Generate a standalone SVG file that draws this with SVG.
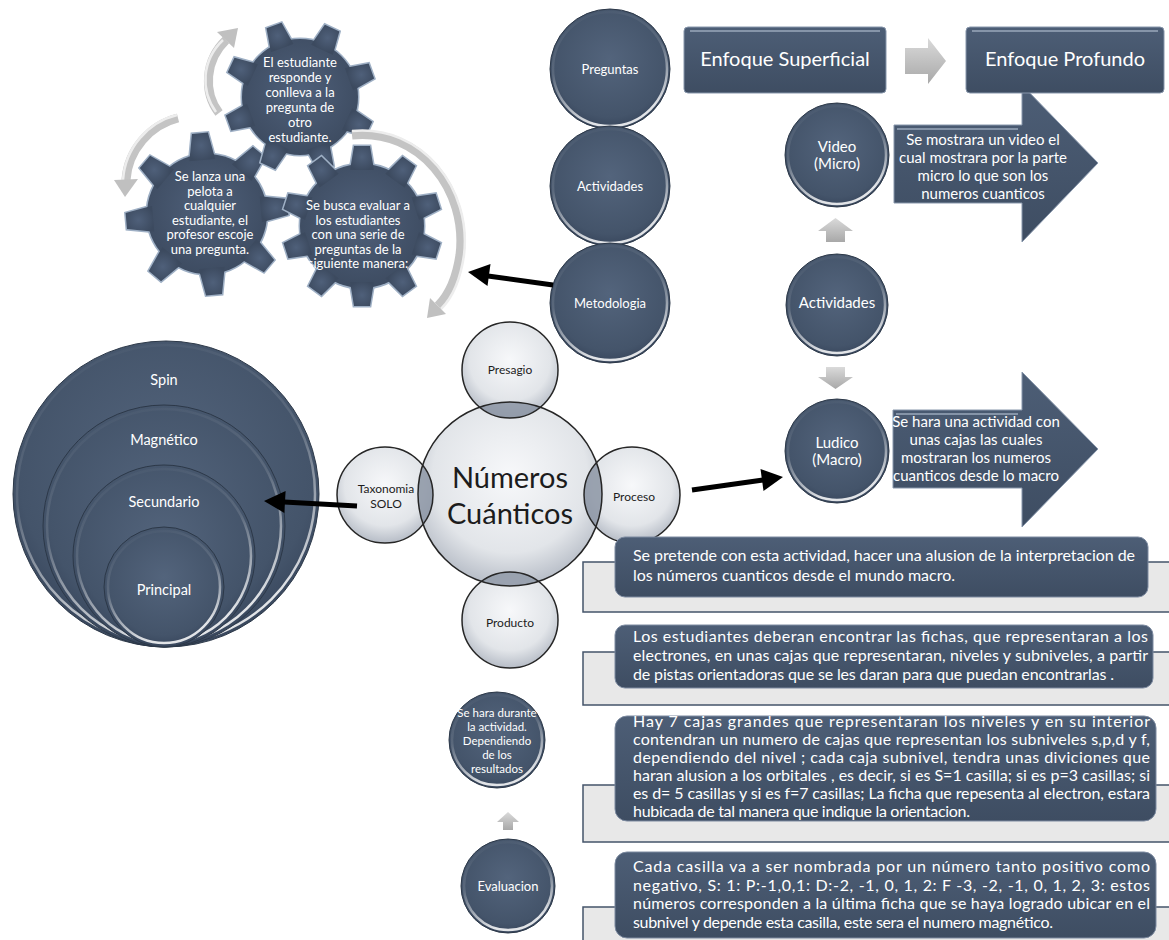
<svg xmlns="http://www.w3.org/2000/svg" xmlns:xlink="http://www.w3.org/1999/xlink" width="1169" height="940" viewBox="0 0 1169 940">
<defs>
<style>
text{font-family:Lato,"Open Sans","Liberation Sans",sans-serif}
.navy{fill:url(#navyFill);stroke:#2c3848;stroke-width:1}
.rim{fill:none;stroke:url(#rimGrad);stroke-width:2.5}
.wt{fill:#fff;text-anchor:middle}
.bubble{fill:url(#bubbleFill)}
.bline{fill:none;stroke:#262626;stroke-width:1.5}
.lens{fill:#8c95a4;opacity:.85}
.dk{fill:#1c1c1c;text-anchor:middle}
.para{fill:#fff;font-size:16px}
.lightbox{fill:#e8e8e8;stroke:#44546a;stroke-width:1.5}
.darkbox{fill:url(#boxFill);stroke:#7c8aa0;stroke-width:1}
.garrow{fill:url(#grayFill)}
.conn{stroke:#000;stroke-width:5;fill:none}
.head{fill:#000}
.arc{fill:none;stroke:#c4c4c4;stroke-width:9}
.arcshine{fill:none;stroke:#ededed;stroke-width:2.5}
.archead{fill:#c0c0c0}
.gearEdge{fill:#44546a;stroke:#9fb0c5;stroke-width:3}
.gearFill{fill:url(#gearGrad)}
.barrow{fill:url(#boxFill);stroke:#8796ab;stroke-width:1}
</style>
<radialGradient id="navyFill" cx="0.5" cy="0.42" r="0.6"><stop offset="0" stop-color="#53647c"/><stop offset="0.8" stop-color="#44546a"/><stop offset="1" stop-color="#36445a"/></radialGradient>
<linearGradient id="rimGrad" x1="0" y1="0" x2="0.3" y2="1"><stop offset="0" stop-color="#fff" stop-opacity="0"/><stop offset="0.5" stop-color="#fff" stop-opacity="0.12"/><stop offset="1" stop-color="#fff" stop-opacity="0.85"/></linearGradient>
<radialGradient id="bubbleFill" cx="0.5" cy="0.4" r="0.6"><stop offset="0" stop-color="#f7f8fa"/><stop offset="0.7" stop-color="#e2e5e9"/><stop offset="1" stop-color="#b7bdc7"/></radialGradient>
<linearGradient id="grayFill" x1="0" y1="0" x2="0" y2="1"><stop offset="0" stop-color="#dadada"/><stop offset="1" stop-color="#a8a8a8"/></linearGradient>
<linearGradient id="boxFill" x1="0" y1="0" x2="0" y2="1"><stop offset="0" stop-color="#4d5e76"/><stop offset="1" stop-color="#3e4d62"/></linearGradient>
<radialGradient id="gearGrad" cx="0.5" cy="0.45" r="0.6"><stop offset="0" stop-color="#4f607a"/><stop offset="1" stop-color="#3c4a5f"/></radialGradient>
<clipPath id="bigClip"><circle cx="510" cy="494" r="92"/></clipPath>
<g id="gear1">
<circle cx="300" cy="97" r="58"/>
<polygon points="-12,-52 -8,-76 8,-76 12,-52" transform="translate(300 97) rotate(-20)"/>
<polygon points="-12,-52 -8,-76 8,-76 12,-52" transform="translate(300 97) rotate(25)"/>
<polygon points="-12,-52 -8,-76 8,-76 12,-52" transform="translate(300 97) rotate(70)"/>
<polygon points="-12,-52 -8,-76 8,-76 12,-52" transform="translate(300 97) rotate(115)"/>
<polygon points="-12,-52 -8,-76 8,-76 12,-52" transform="translate(300 97) rotate(160)"/>
<polygon points="-12,-52 -8,-76 8,-76 12,-52" transform="translate(300 97) rotate(205)"/>
<polygon points="-12,-52 -8,-76 8,-76 12,-52" transform="translate(300 97) rotate(250)"/>
<polygon points="-12,-52 -8,-76 8,-76 12,-52" transform="translate(300 97) rotate(295)"/>
</g>
<g id="gear2">
<circle cx="207" cy="214" r="60"/>
<polygon points="-13,-54 -8,-81 8,-81 13,-54" transform="translate(207 214) rotate(-5)"/>
<polygon points="-13,-54 -8,-81 8,-81 13,-54" transform="translate(207 214) rotate(40)"/>
<polygon points="-13,-54 -8,-81 8,-81 13,-54" transform="translate(207 214) rotate(85)"/>
<polygon points="-13,-54 -8,-81 8,-81 13,-54" transform="translate(207 214) rotate(130)"/>
<polygon points="-13,-54 -8,-81 8,-81 13,-54" transform="translate(207 214) rotate(175)"/>
<polygon points="-13,-54 -8,-81 8,-81 13,-54" transform="translate(207 214) rotate(220)"/>
<polygon points="-13,-54 -8,-81 8,-81 13,-54" transform="translate(207 214) rotate(265)"/>
<polygon points="-13,-54 -8,-81 8,-81 13,-54" transform="translate(207 214) rotate(310)"/>
</g>
<g id="gear3">
<circle cx="362" cy="226" r="62"/>
<polygon points="-12,-56 -8,-80 8,-80 12,-56" transform="translate(362 226) rotate(0)"/>
<polygon points="-12,-56 -8,-80 8,-80 12,-56" transform="translate(362 226) rotate(36)"/>
<polygon points="-12,-56 -8,-80 8,-80 12,-56" transform="translate(362 226) rotate(72)"/>
<polygon points="-12,-56 -8,-80 8,-80 12,-56" transform="translate(362 226) rotate(108)"/>
<polygon points="-12,-56 -8,-80 8,-80 12,-56" transform="translate(362 226) rotate(144)"/>
<polygon points="-12,-56 -8,-80 8,-80 12,-56" transform="translate(362 226) rotate(180)"/>
<polygon points="-12,-56 -8,-80 8,-80 12,-56" transform="translate(362 226) rotate(216)"/>
<polygon points="-12,-56 -8,-80 8,-80 12,-56" transform="translate(362 226) rotate(252)"/>
<polygon points="-12,-56 -8,-80 8,-80 12,-56" transform="translate(362 226) rotate(288)"/>
<polygon points="-12,-56 -8,-80 8,-80 12,-56" transform="translate(362 226) rotate(324)"/>
</g>
</defs>

<rect width="1169" height="940" fill="#fff"/>

<!-- gears -->
<g id="gear-lanza">
<use href="#gear2" class="gearEdge"/><use href="#gear2" class="gearFill"/>
<text class="wt" font-size="13"><tspan x="210" y="181">Se lanza una</tspan><tspan x="210" y="195.5">pelota a</tspan><tspan x="210" y="210">cualquier</tspan><tspan x="210" y="224.5">estudiante, el</tspan><tspan x="210" y="239">profesor escoje</tspan><tspan x="210" y="253.5">una pregunta.</tspan></text>
</g>
<g id="gear-responde">
<use href="#gear1" class="gearEdge"/><use href="#gear1" class="gearFill"/>
<text class="wt" font-size="13"><tspan x="300" y="67">El estudiante</tspan><tspan x="300" y="82">responde y</tspan><tspan x="300" y="97">conlleva a la</tspan><tspan x="300" y="112">pregunta de</tspan><tspan x="300" y="127">otro</tspan><tspan x="300" y="142">estudiante.</tspan></text>
</g>
<g id="gear-busca">
<use href="#gear3" class="gearEdge"/><use href="#gear3" class="gearFill"/>
<text class="wt" font-size="13"><tspan x="358" y="210">Se busca evaluar a</tspan><tspan x="358" y="224.5">los estudiantes</tspan><tspan x="358" y="239">con una serie de</tspan><tspan x="358" y="253.5">preguntas de la</tspan><tspan x="358" y="268">siguiente manera:</tspan></text>
</g>

<!-- gray circular arrows -->
<g id="cycle-arrows">
<path class="arc" d="M219,113 C203,92 205,60 226,40"/>
<path class="arcshine" d="M216,112 C200,90 202,60 223,40"/>
<polygon class="archead" points="217,32 238,28 234,48"/>
<path class="arc" d="M178,118 C150,125 128,150 126,180"/>
<path class="arcshine" d="M177,115 C148,122 125,148 123,180"/>
<polygon class="archead" points="114,180 138,179 125,197"/>
<path class="arc" d="M352,135 C420,128 468,190 460,255 C456,282 446,298 438,306"/>
<path class="arcshine" d="M352,131 C423,124 472,190 464,255 C460,283 450,300 441,309"/>
<polygon class="archead" points="446,314 430,298 427,318"/>
</g>

<!-- left column -->
<g id="n-preguntas"><circle class="navy" cx="610" cy="69" r="60"/><circle class="rim" cx="610" cy="69" r="57"/><text class="wt" x="610" y="74" font-size="13">Preguntas</text></g>
<g id="n-actividades"><circle class="navy" cx="610" cy="186" r="60"/><circle class="rim" cx="610" cy="186" r="57"/><text class="wt" x="610" y="191" font-size="13">Actividades</text></g>
<g id="n-metodologia"><circle class="navy" cx="610" cy="303" r="60"/><circle class="rim" cx="610" cy="303" r="57"/><text class="wt" x="610" y="308" font-size="13">Metodologia</text></g>

<!-- right column arrows (behind boxes) -->
<g id="n-video-desc">
<polygon class="barrow" points="894,125 1022,125 1022,85 1098,163 1022,242 1022,203 894,203"/>
<line x1="897" y1="129" x2="1018" y2="129" stroke="#9aa8bb" stroke-width="1.5"/>
<text class="wt" font-size="15"><tspan x="983" y="145">Se mostrara un video el</tspan><tspan x="983" y="163">cual mostrara por la parte</tspan><tspan x="983" y="181">micro lo que son los</tspan><tspan x="983" y="199">numeros cuanticos</tspan></text>
</g>
<g id="n-ludico-desc">
<polygon class="barrow" points="893,410 1022,410 1022,372 1098,449 1022,527 1022,488 893,488"/>
<line x1="896" y1="414" x2="1018" y2="414" stroke="#9aa8bb" stroke-width="1.5"/>
<text class="wt" font-size="15"><tspan x="976" y="427">Se hara una actividad con</tspan><tspan x="976" y="445">unas cajas las cuales</tspan><tspan x="976" y="463">mostraran los numeros</tspan><tspan x="976" y="481">cuanticos desde lo macro</tspan></text>
</g>

<!-- enfoque boxes -->
<g id="n-superficial">
<rect x="684" y="27" width="202" height="66" rx="4" fill="url(#boxFill)" stroke="#8796ab"/>
<line x1="690" y1="31" x2="880" y2="31" stroke="#9aa8bb" stroke-width="1.5"/>
<text class="wt" x="785" y="66" font-size="20">Enfoque Superficial</text>
</g>
<g id="enfoque-arrow"><polygon class="garrow" points="905,48 928,48 928,38 946,61 928,84 928,74 905,74"/></g>
<g id="n-profundo">
<rect x="966" y="27" width="198" height="66" rx="4" fill="url(#boxFill)" stroke="#8796ab"/>
<line x1="972" y1="31" x2="1158" y2="31" stroke="#9aa8bb" stroke-width="1.5"/>
<text class="wt" x="1065" y="66" font-size="20">Enfoque Profundo</text>
</g>

<g id="n-video"><circle class="navy" cx="837" cy="155" r="52"/><circle class="rim" cx="837" cy="155" r="49"/><text class="wt" font-size="15"><tspan x="837" y="152">Video</tspan><tspan x="837" y="169">(Micro)</tspan></text></g>
<g id="n-actividades2"><circle class="navy" cx="837" cy="305" r="51"/><circle class="rim" cx="837" cy="305" r="48"/><text class="wt" x="837" y="308" font-size="15">Actividades</text></g>
<g id="n-ludico"><circle class="navy" cx="837" cy="451" r="52"/><circle class="rim" cx="837" cy="451" r="49"/><text class="wt" font-size="15"><tspan x="837" y="448">Ludico</tspan><tspan x="837" y="465">(Macro)</tspan></text></g>
<g id="small-arrows">
<polygon class="garrow" points="835.5,218 853,231 845,231 845,242 826,242 826,231 818,231"/>
<polygon class="garrow" points="826,367 845,367 845,377 853,377 835.5,389 818,377 826,377"/>
<polygon class="garrow" points="508,812 519,822 513,822 513,830 503,830 503,822 497,822"/>
</g>

<!-- nested circles -->
<g id="n-spin"><circle class="navy" cx="166" cy="494" r="153" stroke="#1a1a1a"/><circle class="rim" cx="166" cy="494" r="149"/><text class="wt" x="164" y="385" font-size="14.5">Spin</text></g>
<g id="n-magnetico"><circle class="navy" cx="164" cy="526" r="121" stroke="#1a1a1a"/><circle class="rim" cx="164" cy="526" r="117"/><text class="wt" x="164" y="445" font-size="14.5">Magnético</text></g>
<g id="n-secundario"><circle class="navy" cx="164" cy="556" r="91" stroke="#1a1a1a"/><circle class="rim" cx="164" cy="556" r="87"/><text class="wt" x="164" y="507" font-size="14.5">Secundario</text></g>
<g id="n-principal"><circle class="navy" cx="164" cy="587" r="60" stroke="#1a1a1a"/><circle class="rim" cx="164" cy="587" r="56"/><text class="wt" x="164" y="595" font-size="14.5">Principal</text></g>

<!-- central cluster -->
<g id="n-numeros">
<circle class="bubble" cx="510" cy="494" r="92"/>
<circle class="bubble" cx="510" cy="370" r="48"/>
<circle class="bubble" cx="385" cy="495" r="48"/>
<circle class="bubble" cx="632" cy="495" r="48"/>
<circle class="bubble" cx="510" cy="620" r="48"/>
<g clip-path="url(#bigClip)">
<circle class="lens" cx="510" cy="370" r="48"/>
<circle class="lens" cx="385" cy="495" r="48"/>
<circle class="lens" cx="632" cy="495" r="48"/>
<circle class="lens" cx="510" cy="620" r="48"/>
</g>
<circle class="bline" cx="510" cy="494" r="92"/>
<text class="dk" font-size="29"><tspan x="510" y="488">Números</tspan><tspan x="510" y="524">Cuánticos</tspan></text>
</g>
<g id="n-presagio"><circle class="bline" cx="510" cy="370" r="48"/><text class="dk" x="510" y="374" font-size="12">Presagio</text></g>
<g id="n-taxonomia"><circle class="bline" cx="385" cy="495" r="48"/><text class="dk" font-size="12"><tspan x="386" y="493">Taxonomia</tspan><tspan x="386" y="508">SOLO</tspan></text></g>
<g id="n-proceso"><circle class="bline" cx="632" cy="495" r="48"/><text class="dk" x="634" y="501" font-size="12">Proceso</text></g>
<g id="n-producto"><circle class="bline" cx="510" cy="620" r="48"/><text class="dk" x="510" y="627" font-size="12">Producto</text></g>

<!-- evaluation -->
<g id="n-durante"><circle class="navy" cx="497" cy="740" r="48"/><circle class="rim" cx="497" cy="740" r="45"/><text class="wt" font-size="11.5"><tspan x="497" y="717">Se hara durante</tspan><tspan x="497" y="731">la actividad.</tspan><tspan x="497" y="745">Dependiendo</tspan><tspan x="497" y="759">de los</tspan><tspan x="497" y="773">resultados</tspan></text></g>
<g id="n-evaluacion"><circle class="navy" cx="508" cy="886" r="47"/><circle class="rim" cx="508" cy="886" r="44"/><text class="wt" x="508" y="891" font-size="13">Evaluacion</text></g>

<!-- text boxes -->
<g id="n-box1">
<rect class="lightbox" x="583" y="562" width="600" height="50"/>
<rect class="darkbox" x="615" y="537" width="533" height="60" rx="10"/>
<text class="para"><tspan x="633" y="561" textLength="502">Se pretende  con esta actividad, hacer una alusion de la interpretacion de</tspan><tspan x="633" y="581" textLength="322">los números cuanticos desde el mundo macro.</tspan></text>
</g>
<g id="n-box2">
<rect class="lightbox" x="583" y="652" width="600" height="53"/>
<rect class="darkbox" x="615" y="625" width="538" height="63" rx="10"/>
<text class="para"><tspan x="633" y="642" textLength="515">Los estudiantes deberan encontrar las fichas, que representaran a los</tspan><tspan x="633" y="661" textLength="515">electrones,  en unas cajas que representaran, niveles y  subniveles, a partir</tspan><tspan x="633" y="680" textLength="481">de pistas  orientadoras que se les daran para que puedan encontrarlas .</tspan></text>
</g>
<g id="n-box3">
<rect class="lightbox" x="583" y="785" width="600" height="57"/>
<rect class="darkbox" x="615" y="716" width="541" height="105" rx="12"/>
<text class="para"><tspan x="633" y="727" textLength="517">Hay 7 cajas grandes que representaran los niveles y en su interior</tspan><tspan x="633" y="745" textLength="517">contendran  un numero de cajas que representan los subniveles s,p,d y f,</tspan><tspan x="633" y="763" textLength="517">dependiendo del nivel ; cada caja subnivel, tendra unas diviciones que</tspan><tspan x="633" y="781" textLength="517">haran alusion a los orbitales , es decir, si es S=1 casilla; si es p=3 casillas; si</tspan><tspan x="633" y="799" textLength="517">es d= 5 casillas y si es f=7 casillas; La ficha que repesenta al electron, estara</tspan><tspan x="633" y="817" textLength="337">hubicada de tal manera que indique la orientacion.</tspan></text>
</g>
<g id="n-box4">
<rect class="lightbox" x="583" y="907" width="600" height="45"/>
<rect class="darkbox" x="615" y="852" width="541" height="86" rx="12"/>
<text class="para"><tspan x="633" y="872" textLength="517">Cada casilla va a ser nombrada por un número tanto positivo como</tspan><tspan x="633" y="890.5" textLength="517">negativo, S: 1: P:-1,0,1: D:-2, -1, 0, 1, 2: F -3, -2, -1, 0, 1, 2, 3:  estos</tspan><tspan x="633" y="909" textLength="517">números corresponden a la última ficha que se haya logrado ubicar en el</tspan><tspan x="633" y="927.5" textLength="420">subnivel y depende esta casilla, este sera el numero magnético.</tspan></text>
</g>

<!-- connectors -->
<g id="connectors">
<line class="conn" x1="553" y1="285" x2="488" y2="276"/>
<polygon class="head" points="490.5,264 468,272 487.5,286"/>
<line class="conn" x1="357" y1="506" x2="284" y2="502"/>
<polygon class="head" points="285.6,491 264,501 284.4,513"/>
<line class="conn" x1="692" y1="490" x2="763" y2="480"/>
<polygon class="head" points="760.5,469 783,477 763.5,491"/>
</g>
</svg>
